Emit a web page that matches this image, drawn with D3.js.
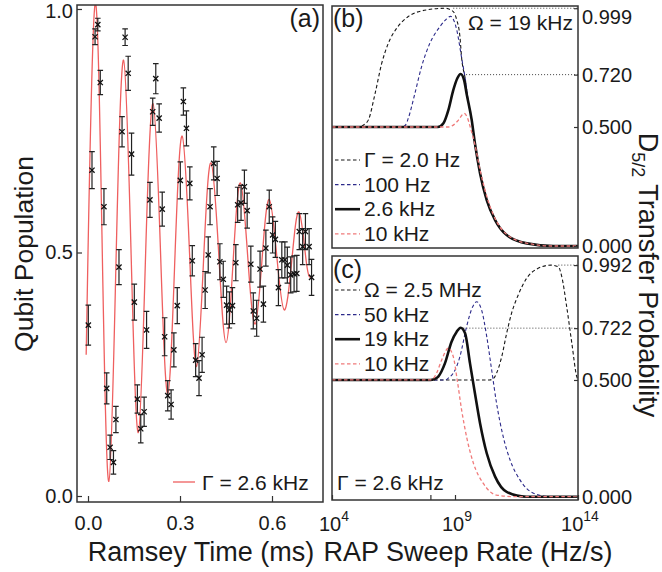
<!DOCTYPE html>
<html><head><meta charset="utf-8">
<script src="https://cdn.jsdelivr.net/npm/d3@7"></script>
<style>
body{margin:0;background:#fff}
text{font-family:"Liberation Sans",Arial,Helvetica,sans-serif;fill:#1a1a1a}
</style>
</head><body>
<svg id="chart" width="662" height="572"></svg>
<script>
// ---------------- DATA ----------------
// (a) Ramsey measurement
const ramseyT = [0.001,0.013,0.023,0.032,0.040,0.052,0.061,0.072,0.083,0.091,0.101,0.111,0.121,0.131,0.142,0.151,0.161,0.172,0.183,0.191,
  0.202,0.211,0.221,0.232,0.242,0.250,0.260,0.271,0.280,0.291,0.301,0.311,0.321,0.332,0.340,0.351,0.362,0.372,0.382,0.392,
  0.398,0.410,0.421,0.430,0.441,0.452,0.461,0.471,0.482,0.488,0.499,0.510,0.519,0.531,0.539,0.550,0.561,0.572,0.580,0.591,
  0.602,0.611,0.621,0.632,0.642,0.650,0.661,0.672,0.681,0.689,0.700,0.709,0.721,0.729];
const ramseyP = [0.351,0.669,0.943,0.968,0.849,0.594,0.221,0.100,0.069,0.157,0.470,0.748,0.942,0.868,0.702,0.398,0.199,0.138,0.173,0.341,
  0.608,0.789,0.857,0.776,0.589,0.327,0.206,0.188,0.300,0.391,0.648,0.810,0.755,0.642,0.483,0.279,0.242,0.290,0.423,0.495,
  0.594,0.683,0.652,0.481,0.445,0.392,0.382,0.391,0.479,0.598,0.602,0.635,0.586,0.476,0.380,0.365,0.466,0.394,0.509,0.594,
  0.536,0.527,0.428,0.485,0.485,0.474,0.454,0.456,0.457,0.543,0.512,0.543,0.512,0.449];
const ramseyErr = [0.041,0.038,0.016,0.013,0.025,0.037,0.032,0.025,0.024,0.027,0.036,0.031,0.017,0.035,0.043,0.037,0.029,0.029,0.030,0.038,
  0.036,0.028,0.031,0.029,0.035,0.039,0.031,0.030,0.035,0.037,0.038,0.028,0.036,0.034,0.031,0.034,0.036,0.036,0.038,0.037,
  0.037,0.034,0.035,0.037,0.037,0.039,0.037,0.037,0.037,0.036,0.036,0.034,0.036,0.037,0.037,0.037,0.037,0.037,0.037,0.034,
  0.037,0.037,0.037,0.037,0.037,0.037,0.037,0.037,0.037,0.037,0.037,0.037,0.037,0.037];
// (a) fit curve (extrema and crossings)
const fitT = [-0.006,0.000,0.023,0.046,0.068,0.092,0.116,0.140,0.164,0.188,0.212,0.236,0.260,0.284,0.307,0.331,0.354,0.378,
  0.401,0.426,0.450,0.474,0.497,0.521,0.545,0.568,0.591,0.616,0.640,0.664,0.688,0.712,0.727];
const fitP = [0.29,0.50,1.01,0.52,0.03,0.50,0.895,0.51,0.13,0.50,0.806,0.51,0.21,0.50,0.739,0.50,0.266,0.50,
  0.684,0.50,0.315,0.49,0.643,0.49,0.353,0.49,0.609,0.49,0.382,0.48,0.583,0.48,0.45];
const fitLabel = "Γ = 2.6 kHz";
const aTicksX = [0, 0.3, 0.6];
const aTicksY = [0, 0.5, 1.0];

// (b) Omega = 19 kHz, varying Gamma. x = log10(sweep rate / Hz/s)
const bLabels = ["Γ = 2.0 Hz", "100 Hz", "2.6 kHz", "10 kHz"];
const bExp = [
  [4,5.1,5.3,5.48,5.75,6.02,6.29,6.63,7.1,7.85,8.6,8.93,9.07,9.2,9.27,9.42,9.55,9.68,9.81,10.02,10.29,10.63,11.1,11.92,13,14],
  [4,6.85,7.0,7.1,7.37,7.64,7.98,8.39,8.62,8.82,9.07,9.27,9.42,9.55,9.68,9.81,10.02,10.29,10.63,11.1,11.92,13,14],
  [4,8.3,8.53,8.73,8.93,9.09,9.23,9.37,9.47,9.68,9.81,10.02,10.29,10.63,11.1,11.92,13,14],
  [4,8.7,8.93,9.14,9.37,9.5,9.62,9.8,10.04,10.33,10.68,11.15,12.0,13,14]
];
const bProb = [
  [0.5,0.5,0.51,0.53,0.64,0.767,0.852,0.915,0.964,0.992,0.999,0.985,0.95,0.88,0.79,0.70,0.60,0.529,0.431,0.305,0.193,0.109,0.046,0.011,0.0,0.0],
  [0.5,0.5,0.51,0.536,0.641,0.753,0.852,0.922,0.950,0.965,0.908,0.79,0.70,0.60,0.529,0.431,0.305,0.193,0.109,0.046,0.011,0.0,0.0],
  [0.5,0.5,0.516,0.571,0.655,0.704,0.723,0.697,0.641,0.529,0.431,0.305,0.193,0.109,0.046,0.011,0.0,0.0],
  [0.5,0.5,0.508,0.529,0.557,0.54,0.50,0.43,0.31,0.195,0.105,0.045,0.01,0.0,0.0]
];
const bTicks = [0, 0.5, 0.72, 0.999];
const bRefLines = [{v:0.999, from:8.93}, {v:0.72, from:9.45}];
const bNote = "Ω = 19 kHz";

// (c) Gamma = 2.6 kHz, varying Omega
const cLabels = ["Ω = 2.5 MHz", "50 kHz", "19 kHz", "10 kHz"];
const cExp = [
  [4,10.4,10.55,10.69,10.9,11.1,11.3,11.57,11.91,12.32,12.9,13.2,13.34,13.54,13.75,13.95,14],
  [4,8.6,8.75,8.93,9.2,9.47,9.72,9.88,10.08,10.29,10.49,10.69,10.96,11.24,11.64,12.19,12.9,14],
  [4,8.0,8.15,8.32,8.59,8.86,9.07,9.23,9.41,9.61,9.81,10.02,10.29,10.63,11.1,11.9,14],
  [4,7.95,8.1,8.25,8.46,8.73,8.93,9.09,9.27,9.47,9.75,10.15,10.69,11.5,14]
];
const cProb = [
  [0.5,0.5,0.505,0.529,0.60,0.70,0.786,0.864,0.935,0.975,0.992,0.985,0.943,0.814,0.657,0.514,0.5],
  [0.5,0.5,0.51,0.529,0.60,0.728,0.814,0.835,0.80,0.686,0.543,0.40,0.257,0.157,0.072,0.015,0.0,0.0],
  [0.5,0.5,0.503,0.514,0.571,0.664,0.707,0.724,0.70,0.571,0.443,0.314,0.186,0.086,0.021,0.0,0.0],
  [0.5,0.5,0.505,0.529,0.586,0.636,0.60,0.50,0.371,0.257,0.143,0.057,0.007,0.0,0.0]
];
const cTicks = [0, 0.5, 0.722, 0.992];
const cRefLines = [{v:0.992, from:13.2}, {v:0.722, from:9.34}];
const cNote = "Γ = 2.6 kHz";
const rateTickExp = [4, 8, 9, 14];
const rateLabelExp = [4, 9, 14];

// ---------------- STYLES ----------------
const FONT = '"Liberation Sans",Arial,Helvetica,sans-serif';
const seriesStyle = [
  {stroke:"#161616", width:1.1, dash:"3.5,2.5"},
  {stroke:"#2c2a8a", width:1.1, dash:"3.5,2.5"},
  {stroke:"#111111", width:2.6, dash:null},
  {stroke:"#f07a7a", width:1.3, dash:"3.5,2.5"}
];
const drawOrder = [0, 1, 2, 3];

const svg = d3.select("#chart");
svg.append("rect").attr("width",662).attr("height",572).attr("fill","#fff");

// ---------------- SCALES ----------------
const A = {x0:77, x1:323, y0:5, y1:502};
const B = {x0:332, x1:578, y0:6, y1:248};
const C = {x0:332, x1:578, y0:256, y1:500};

const xA = d3.scaleLinear().domain([-0.0359, 0.7663]).range([A.x0, A.x1]);
const yA = d3.scaleLinear().domain([-0.0123, 1.0082]).range([A.y1, A.y0]);
const xR = d3.scaleLog().domain([1e4, 1e14]).range([B.x0, B.x1]);
const yB = d3.scaleLinear().domain([-0.0084, 1.0084]).range([B.y1, B.y0]);
const yC = d3.scaleLinear().domain([-0.0141, 1.031]).range([C.y1, C.y0]);

const defs = svg.append("defs");
[["clipA",A],["clipB",B],["clipC",C]].forEach(([id,p]) => {
  defs.append("clipPath").attr("id",id).append("rect")
    .attr("x",p.x0).attr("y",p.y0).attr("width",p.x1-p.x0).attr("height",p.y1-p.y0);
});

// ---------------- PANEL (a) ----------------
const gA = svg.append("g").attr("clip-path","url(#clipA)");
const fitLine = d3.line().x((d,i)=>xA(fitT[i])).y((d,i)=>yA(fitP[i])).curve(d3.curveNatural);
gA.append("path").datum(fitT).attr("d", fitLine)
  .attr("fill","none").attr("stroke","#ef5f5f").attr("stroke-width",1.3);

const pts = ramseyT.map((t,i)=>({t, p:ramseyP[i], e:ramseyErr[i]}));
const eb = gA.append("g").attr("stroke","#222").attr("stroke-width",1.2).attr("fill","none");
pts.forEach(d => {
  const x = xA(d.t), yt = yA(d.p + d.e), yb = yA(d.p - d.e);
  eb.append("path").attr("d", `M${x},${yt}V${yb}M${x-2.8},${yt}H${x+2.8}M${x-2.8},${yb}H${x+2.8}`);
  const y = yA(d.p), s = 2.6;
  eb.append("path").attr("d", `M${x-s},${y-s}L${x+s},${y+s}M${x-s},${y+s}L${x+s},${y-s}`)
    .attr("stroke","#111").attr("stroke-width",1.3);
});

// axes (a)
const axAy = d3.axisLeft(yA).tickValues(aTicksY).tickFormat(d3.format(".1f")).tickSizeInner(-5).tickSizeOuter(0).tickPadding(4);
const gAy = svg.append("g").attr("transform",`translate(${A.x0},0)`).call(axAy);
gAy.selectAll(".tick text").filter(d => d === 1.0).attr("dy","0.45em");
const axAx = d3.axisBottom(xA).tickValues(aTicksX).tickFormat(d3.format(".1f")).tickSizeInner(-6).tickSizeOuter(0).tickPadding(14);
svg.append("g").attr("transform",`translate(0,${A.y1})`).call(axAx);

// legend (a)
svg.append("line").attr("x1",173).attr("x2",195).attr("y1",482).attr("y2",482)
  .attr("stroke","#ef5f5f").attr("stroke-width",1.3);
svg.append("text").attr("x",202).attr("y",490).attr("font-size",21).text(fitLabel);
svg.append("text").attr("x",320).attr("y",27).attr("text-anchor","end").attr("font-size",25).text("(a)");

// ---------------- PANELS (b),(c) ----------------
function drawRatePanel(P, yS, clipId, exps, probs, refs) {
  const g = svg.append("g").attr("clip-path",`url(#${clipId})`);
  refs.forEach(r => {
    g.append("line").attr("x1", xR(Math.pow(10, r.from))).attr("x2", P.x1)
      .attr("y1", yS(r.v)).attr("y2", yS(r.v))
      .attr("stroke","#444").attr("stroke-width",1).attr("stroke-dasharray","1,2");
  });
  drawOrder.forEach(k => {
    const xs = exps[k], ys = probs[k], st = seriesStyle[k];
    const line = d3.line().x((d,i)=>xR(Math.pow(10, xs[i]))).y((d,i)=>yS(ys[i])).curve(d3.curveMonotoneX);
    const p = g.append("path").datum(xs).attr("d", line).attr("fill","none")
      .attr("stroke", st.stroke).attr("stroke-width", st.width);
    if (st.dash) p.attr("stroke-dasharray", st.dash);
  });
}
drawRatePanel(B, yB, "clipB", bExp, bProb, bRefLines);
drawRatePanel(C, yC, "clipC", cExp, cProb, cRefLines);

const axB = d3.axisRight(yB).tickValues(bTicks).tickFormat(d3.format(".3f")).tickSizeInner(-4).tickSizeOuter(0).tickPadding(4);
const gB = svg.append("g").attr("transform",`translate(${B.x1},0)`).call(axB);
gB.selectAll(".tick text").filter(d => d === 0.999).attr("dy","0.75em");
const axC = d3.axisRight(yC).tickValues(cTicks).tickFormat(d3.format(".3f")).tickSizeInner(-4).tickSizeOuter(0).tickPadding(4);
svg.append("g").attr("transform",`translate(${C.x1},0)`).call(axC);

const axR = d3.axisBottom(xR).tickValues(rateTickExp.map(e=>Math.pow(10,e))).tickFormat("").tickSizeInner(-5).tickSizeOuter(0);
svg.append("g").attr("transform",`translate(0,${C.y1})`).call(axR);
const rl = svg.append("g");
rateLabelExp.forEach(e => {
  const t = rl.append("text").attr("x", xR(Math.pow(10,e)) + 2).attr("y", 531)
    .attr("text-anchor","middle").attr("font-size",20);
  t.append("tspan").text("10");
  t.append("tspan").attr("dy",-10).attr("font-size",14).text(String(e));
});

// legends (b), (c)
function legend(labels, yBase) {
  labels.forEach((lab, i) => {
    const y = yBase + i*24.6;
    const st = seriesStyle[i];
    const l = svg.append("line").attr("x1",335).attr("x2",360).attr("y1",y-7).attr("y2",y-7)
      .attr("stroke",st.stroke).attr("stroke-width",st.width);
    if (st.dash) l.attr("stroke-dasharray",st.dash);
    svg.append("text").attr("x",364).attr("y",y).attr("font-size",21).text(lab);
  });
}
legend(bLabels, 167);
legend(cLabels, 297);

svg.append("text").attr("x",573).attr("y",30).attr("text-anchor","end").attr("font-size",21).text(bNote);
svg.append("text").attr("x",337).attr("y",490).attr("font-size",21).text(cNote);
svg.append("text").attr("x",333).attr("y",27).attr("font-size",25).text("(b)");
svg.append("text").attr("x",333).attr("y",278).attr("font-size",25).text("(c)");

// frames
[A,B,C].forEach(p => svg.append("rect").attr("x",p.x0).attr("y",p.y0)
  .attr("width",p.x1-p.x0).attr("height",p.y1-p.y0)
  .attr("fill","none").attr("stroke","#333").attr("stroke-width",1.5));

// axis styling
svg.selectAll(".domain").remove();
svg.selectAll(".tick line").attr("stroke","#333").attr("stroke-width",1.2);
svg.selectAll(".tick text").attr("font-family",FONT).attr("font-size",20).attr("fill","#1a1a1a");

// titles
svg.append("text").attr("transform","translate(33,254) rotate(-90)")
  .attr("text-anchor","middle").attr("font-size",26.5).text("Qubit Population");
svg.append("text").attr("x",201).attr("y",561).attr("text-anchor","middle").attr("font-size",27).text("Ramsey Time (ms)");
svg.append("text").attr("x",468).attr("y",561).attr("text-anchor","middle").attr("font-size",27).text("RAP Sweep Rate (Hz/s)");
const rt = svg.append("text").attr("transform","translate(639,275) rotate(90)")
  .attr("text-anchor","middle").attr("font-size",27);
rt.append("tspan").text("D");
rt.append("tspan").attr("font-size",18).attr("dy",7).text("5/2");
rt.append("tspan").attr("dy",-7).text(" Transfer Probability");
</script>
</body></html>
